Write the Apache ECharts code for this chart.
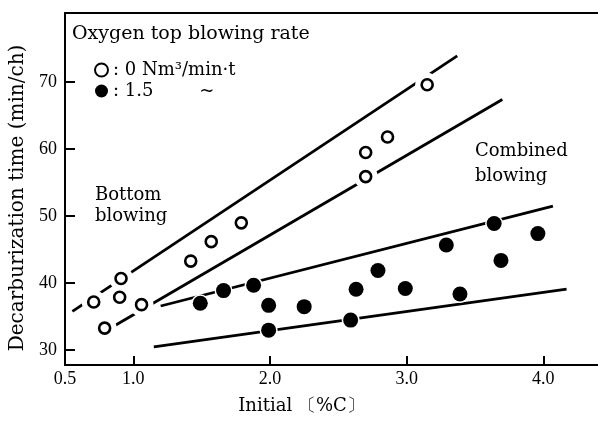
<!DOCTYPE html>
<html>
<head>
<meta charset="utf-8">
<script src="https://cdn.jsdelivr.net/npm/echarts@6/dist/echarts.min.js"></script>
<style>html,body{margin:0;padding:0;background:#fff}#c{width:598px;height:424px}</style>
</head>
<body>
<div id="c"></div>
<script>
// Open circles: oxygen top blowing rate 0 Nm3/min·t
const openPoints = [[0.71,37.2],[0.91,40.7],[0.90,37.9],[0.79,33.3],[1.06,36.8],[1.42,43.3],[1.57,46.2],[1.79,49.0],[2.70,59.5],[2.70,55.9],[2.86,61.8],[3.15,69.6]];
// Filled circles: 1.5 Nm3/min·t
const filledPoints = [[1.49,37.0],[1.66,38.9],[1.88,39.7],[1.99,36.7],[1.99,33.0],[2.25,36.5],[2.59,34.5],[2.63,39.1],[2.79,41.9],[2.99,39.2],[3.29,45.7],[3.39,38.4],[3.64,48.9],[3.69,43.4],[3.96,47.4]];
// Band lines (end points)
const openUpperLine = [[0.554,35.8],[3.37,73.9]];
const openLowerLine = [[0.80,32.9],[3.70,67.4]];
const filledUpperLine = [[1.20,36.6],[4.07,51.5]];
const filledLowerLine = [[1.15,30.5],[4.17,39.1]];
const xTickValues = [1,2,3,4];
const xLabelValues = [0.5,1,2,3,4];
const yTickValues = [30,40,50,60,70];
const legendNames = [': 0 Nm\u00b3/min\u00b7t', ': 1.5        ~'];

const serif = '"DejaVu Serif", serif';
const tickFont = '"Liberation Serif", serif';
const lineStyle = {color:'#000', width:2.8};
function bandLine(d){
  return {type:'line', data:d, showSymbol:false, symbol:'none', lineStyle:lineStyle, z:1, silent:true, animation:false};
}
function halo(d, size){
  return {type:'scatter', data:d, symbol:'circle', symbolSize:size, silent:true,
    itemStyle:{color:'#fff', borderWidth:0, opacity:1}, z:2};
}
const chart = echarts.init(document.getElementById('c'), null, {renderer:'canvas'});
chart.setOption({
  animation:false,
  backgroundColor:'#fff',
  grid:{left:65, right:0, top:13, bottom:59},
  title:{text:'Oxygen top blowing rate', left:72, top:25, padding:0,
    textStyle:{fontFamily:serif, fontSize:19, fontWeight:'normal', color:'#000'}},
  legend:{orient:'vertical', left:94, top:61, padding:0, itemGap:3, itemWidth:13, itemHeight:13,
    data:legendNames, textStyle:{fontFamily:serif, fontSize:18, color:'#000'}},
  xAxis:[{
    type:'value', min:0.5, max:4.4,
    name:'Initial \u3014%C\u3015', nameLocation:'middle', nameGap:32,
    nameTextStyle:{fontFamily:serif, fontSize:18, color:'#000', padding:[0,60,0,0]},
    axisLine:{show:true, lineStyle:{color:'#000', width:2}},
    axisTick:{show:true, inside:true, length:9, customValues:xTickValues, lineStyle:{color:'#000', width:2}},
    axisLabel:{customValues:xLabelValues, formatter:v=>v.toFixed(1), margin:5, fontFamily:tickFont, fontSize:18, color:'#000'},
    splitLine:{show:false}
  },{
    type:'value', position:'top', min:0.5, max:4.4,
    axisLine:{show:true, lineStyle:{color:'#000', width:2}},
    axisTick:{show:false}, axisLabel:{show:false}, splitLine:{show:false}
  }],
  yAxis:{
    type:'value', min:27.8, max:80.3,
    name:'Decarburization time (min/ch)', nameLocation:'middle', nameGap:33,
    nameTextStyle:{fontFamily:serif, fontSize:20, color:'#000', padding:[0,18,0,0]},
    axisLine:{show:true, lineStyle:{color:'#000', width:2}},
    axisTick:{show:true, inside:true, length:10, customValues:yTickValues, lineStyle:{color:'#000', width:2}},
    axisLabel:{customValues:yTickValues, margin:8, fontFamily:tickFont, fontSize:18, color:'#000'},
    splitLine:{show:false}
  },
  graphic:[
    {type:'text', x:95, y:185, style:{text:'Bottom\nblowing', font:'18px "DejaVu Serif"', lineHeight:21, fill:'#000'}},
    {type:'text', x:475, y:139, style:{text:'Combined\nblowing', font:'18px "DejaVu Serif"', lineHeight:25, fill:'#000'}}
  ],
  series:[
    bandLine(openUpperLine), bandLine(openLowerLine), bandLine(filledUpperLine), bandLine(filledLowerLine),
    halo(openPoints, 24), halo(filledPoints, 18),
    {name:legendNames[0], type:'scatter', data:openPoints, symbol:'circle', symbolSize:11,
      itemStyle:{color:'#fff', borderColor:'#000', borderWidth:2.6, opacity:1}, z:3},
    {name:legendNames[1], type:'scatter', data:filledPoints, symbol:'circle', symbolSize:15,
      itemStyle:{color:'#000', borderWidth:0, opacity:1}, z:3}
  ]
});
</script>
</body>
</html>
